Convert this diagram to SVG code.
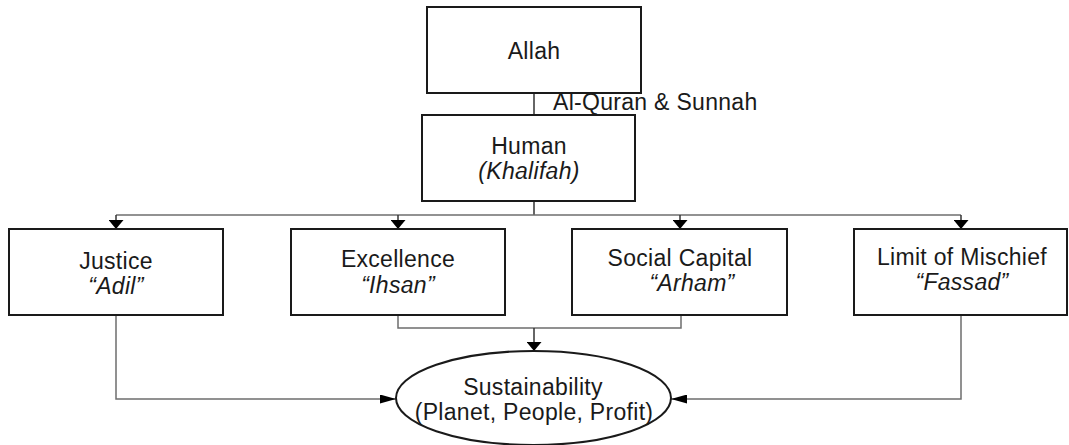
<svg xmlns="http://www.w3.org/2000/svg" width="1069" height="445" viewBox="0 0 1069 445">
<style>
  .box{fill:#fff;stroke:#1a1a1a;stroke-width:2}
  .t{font-family:"Liberation Sans",Arial,sans-serif;font-size:23px;letter-spacing:0.3px;fill:#1a1a1a;text-anchor:middle}
  .i{font-style:italic}
  .c{fill:none;stroke:#6e6e6e;stroke-width:1.5}
  .cd{fill:none;stroke:#333;stroke-width:1.5}
</style>
<defs>
  <marker id="av" markerUnits="userSpaceOnUse" markerWidth="9" markerHeight="15" refX="9" refY="7.5" orient="auto">
    <path d="M0,0 L9,7.5 L0,15 z" fill="#000"/>
  </marker>
  <marker id="ah" markerUnits="userSpaceOnUse" markerWidth="16" markerHeight="9" refX="16" refY="4.5" orient="auto">
    <path d="M0,0 L16,4.5 L0,9 z" fill="#000"/>
  </marker>
</defs>
<rect width="1069" height="445" fill="#fff"/>
<g id="connectors">
  <path class="cd" d="M534,93 V115"/>
  <text class="t" x="553" y="110" style="text-anchor:start">Al-Quran &amp; Sunnah</text>
  <path class="cd" d="M534,201 V215"/>
  <path class="c" d="M116,215 H961"/>
  <path class="cd" d="M116,215 V229" marker-end="url(#av)"/>
  <path class="cd" d="M398,215 V229" marker-end="url(#av)"/>
  <path class="cd" d="M680,215 V229" marker-end="url(#av)"/>
  <path class="cd" d="M961,215 V229" marker-end="url(#av)"/>
  <path class="c" d="M398,315 V328 H681 V315"/>
  <path class="cd" d="M534,328 V351" marker-end="url(#av)"/>
  <path class="c" d="M116,315 V399 H396" marker-end="url(#ah)"/>
  <path class="c" d="M961,315 V399 H671" marker-end="url(#ah)"/>
</g>
<g id="allah">
  <rect class="box" x="427" y="7" width="214" height="86"/>
  <text class="t" x="534" y="59">Allah</text>
</g>
<g id="human">
  <rect class="box" x="422" y="115" width="213" height="86"/>
  <text class="t" x="529" y="154">Human</text>
  <text class="t i" x="529" y="179">(Khalifah)</text>
</g>
<g id="justice">
  <rect class="box" x="9" y="229" width="214" height="86"/>
  <text class="t" x="116" y="269">Justice</text>
  <text class="t i" x="116" y="294">“Adil”</text>
</g>
<g id="excellence">
  <rect class="box" x="291" y="229" width="214" height="86"/>
  <text class="t" x="398" y="267">Excellence</text>
  <text class="t i" x="398" y="293">“Ihsan”</text>
</g>
<g id="social-capital">
  <rect class="box" x="572" y="229" width="215" height="86"/>
  <text class="t" x="680" y="266">Social Capital</text>
  <text class="t i" x="692" y="291">“Arham”</text>
</g>
<g id="limit-of-mischief">
  <rect class="box" x="854" y="229" width="213" height="86"/>
  <text class="t" x="962" y="265">Limit of Mischief</text>
  <text class="t i" x="962" y="290">“Fassad”</text>
</g>
<g id="sustainability">
  <ellipse class="box" cx="533.5" cy="398" rx="137.5" ry="47"/>
  <text class="t" x="533" y="395">Sustainability</text>
  <text class="t" x="534" y="420">(Planet, People, Profit)</text>
</g>
</svg>
